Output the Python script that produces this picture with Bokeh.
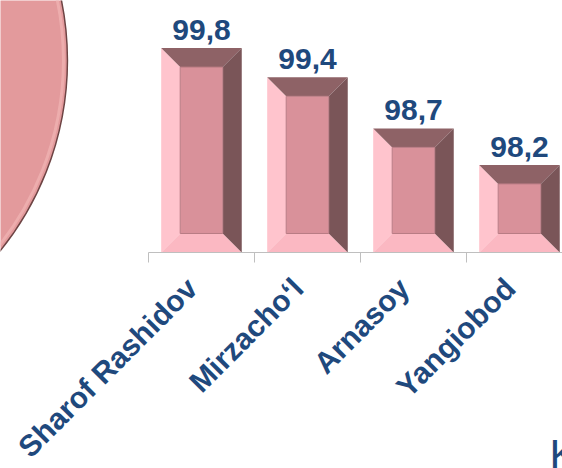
import math
from bokeh.plotting import figure
from bokeh.models import Range1d, FixedTicker, ColumnDataSource, Label, LabelSet
from bokeh.core.properties import value
from bokeh.embed import file_html
from bokeh.resources import INLINE

# ---- data ----
categories = ["Sharof Rashidov", "Mirzacho\u2018l", "Arnasoy", "Yangiobod"]
values = [99.8, 99.4, 98.7, 98.2]
value_labels = [f"{v:.1f}".replace(".", ",") for v in values]

# ---- layout / style constants ----
BASE = 97.0
PX_PER_X = 106.0
PX_PER_Y = 73.0
X_START, X_END = -1.396, 3.906
Y_START, Y_END = BASE - 216 / PX_PER_Y, 100.452
BAR_W = 0.76
BEVEL_PX = 19
bx = BEVEL_PX / PX_PER_X
by = BEVEL_PX / PX_PER_Y

TEXT_COLOR = "#1F497D"
FONT = "Liberation Sans"

p = figure(width=562, height=468,
           x_range=Range1d(X_START, X_END), y_range=Range1d(Y_START, Y_END),
           output_backend="svg", toolbar_location=None, y_axis_location=None,
           min_border_left=0, min_border_right=0, min_border_top=0,
           min_border_bottom=0)
p.outline_line_color = None
p.grid.visible = False

# decorative pink disc at left
p.circle(x=[-3.623], y=[99.63], radius=303, radius_units="screen",
         fill_color="#E39A9C", line_color="#6E4444", line_width=1.5)
p.circle(x=[-3.623], y=[99.63], radius=299, radius_units="screen",
         fill_color=None, line_color="#EFB2B2", line_width=3, line_alpha=0.8)

# bevelled bars
left_xs, left_ys, top_xs, top_ys = [], [], [], []
right_xs, right_ys, bot_xs, bot_ys = [], [], [], []
face_l, face_r, face_b, face_t = [], [], [], []
for i, v in enumerate(values):
    c = i + 0.5
    L, R, B, T = c - BAR_W / 2, c + BAR_W / 2, BASE, v
    l, r, b, t = L + bx, R - bx, B + by, T - by
    left_xs.append([L, l, l, L]); left_ys.append([B, b, t, T])
    top_xs.append([L, R, r, l]); top_ys.append([T, T, t, t])
    right_xs.append([R, R, r, r]); right_ys.append([T, B, b, t])
    bot_xs.append([L, R, r, l]); bot_ys.append([B, B, b, b])
    face_l.append(l); face_r.append(r); face_b.append(b); face_t.append(t)

p.patches(left_xs, left_ys, fill_color="#FFC4CD", line_color=None)
p.patches(bot_xs, bot_ys, fill_color="#FBB8C2", line_color=None)
p.patches(top_xs, top_ys, fill_color="#8E6266", line_color=None)
p.patches(right_xs, right_ys, fill_color="#7A5558", line_color=None)
p.quad(left=face_l, right=face_r, bottom=face_b, top=face_t,
       fill_color="#D9919A", line_color="#B97C84", line_width=1)

# value labels
src = ColumnDataSource(dict(x=[i + 0.5 for i in range(len(values))],
                            y=values, t=value_labels))
p.text(x="x", y="y", text="t", source=src, y_offset=-8,
       text_align="center", text_baseline="bottom",
       text_font=value(FONT), text_font_style="bold",
       text_font_size="30px", text_color=TEXT_COLOR)

# x axis at the bars' base: line and boundary ticks only
xa = p.xaxis[0]
xa.fixed_location = BASE
xa.ticker = FixedTicker(ticks=[], minor_ticks=list(range(len(categories) + 1)))
xa.bounds = (0, len(categories))
xa.major_tick_line_color = None
xa.minor_tick_line_color = "#BFBFBF"
xa.minor_tick_out = 10
xa.minor_tick_in = 0
xa.axis_line_color = "#BFBFBF"
xa.major_label_text_font_size = "0px"

# rotated category labels, ending just left of each category centre
cat_src = ColumnDataSource(dict(
    x=[i + 0.5 - 0.2 for i in range(len(categories))],
    y=[BASE] * len(categories),
    t=categories))
p.add_layout(LabelSet(x="x", y="y", text="t", source=cat_src,
                      y_offset=-19, angle=math.pi / 4,
                      text_align="right", text_baseline="top",
                      text_font=value(FONT), text_font_style="bold",
                      text_font_size="30px", text_color=TEXT_COLOR))

# partial text at the bottom-right corner
p.add_layout(Label(x=3.783, y=BASE - (454 - 252) / PX_PER_Y, text="K",
                   text_font=FONT, text_font_size="42px",
                   text_color=TEXT_COLOR, text_baseline="alphabetic"))

open("out.html", "w").write(file_html(p, INLINE))
